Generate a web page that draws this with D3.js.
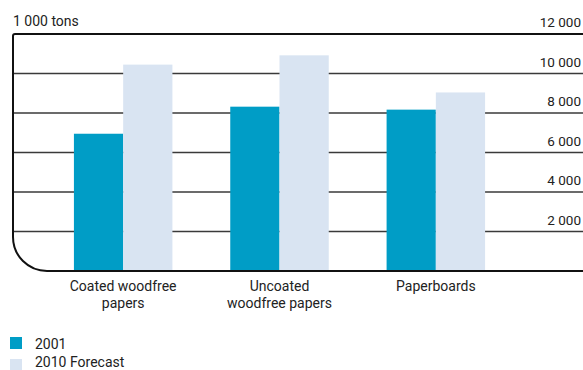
<!DOCTYPE html>
<html>
<head>
<meta charset="utf-8">
<script src="https://cdn.jsdelivr.net/npm/d3@7"></script>
<style>
  html, body { margin: 0; padding: 0; background: #fff; }
  svg { display: block; }
  text { font-family: Roboto, "DejaVu Sans", sans-serif; fill: #222; }
</style>
</head>
<body>
<svg id="chart" width="583" height="370"></svg>
<script>
const categories = [["Coated woodfree", "papers"], ["Uncoated", "woodfree papers"], ["Paperboards"]];
const categoryKeys = ["Coated woodfree papers", "Uncoated woodfree papers", "Paperboards"];
const seriesNames = ["2001", "2010 Forecast"];
const values2001 = [6950, 8320, 8170];
const values2010 = [10450, 10920, 9040];
const tickValues = [2000, 4000, 6000, 8000, 10000, 12000];
const tickLabels = ["2 000", "4 000", "6 000", "8 000", "10 000", "12 000"];
const unitLabel = "1 000 tons";
const colors = ["#009dc6", "#d9e4f2"];

const svg = d3.select("#chart");
const W = 583;
const left = 13, y0px = 271, ytop = 34;

const y = d3.scaleLinear().domain([0, 12000]).range([y0px, ytop]);
const x = d3.scaleBand().domain(categoryKeys).range([45, 514]).paddingInner(0.37).paddingOuter(0.185);
const xs = d3.scaleBand().domain(seriesNames).range([0, x.bandwidth()]);

// gridlines (inner)
svg.append("g").selectAll("line")
  .data(tickValues.filter(v => v < 12000))
  .join("line")
  .attr("x1", left).attr("x2", W)
  .attr("y1", d => y(d)).attr("y2", d => y(d))
  .attr("stroke", "#3a3a3a").attr("stroke-width", 1.5);

// bars
const series = [values2001, values2010];
const g = svg.append("g");
series.forEach((vals, si) => {
  g.selectAll(null).data(vals).join("rect")
    .attr("x", (d, i) => x(categoryKeys[i]) + xs(seriesNames[si]))
    .attr("width", xs.bandwidth())
    .attr("y", d => y(d))
    .attr("height", d => y(0) - y(d))
    .attr("fill", colors[si]);
});

// frame: top line, left line, rounded bottom-left corner, baseline
const r = 34, rt = 2;
const yt = y(12000), yb = y(0);
const path = d3.path();
path.moveTo(W, yt);
path.lineTo(left + rt, yt);
path.arcTo(left, yt, left, yt + rt, rt);
path.lineTo(left, yb - r);
path.arcTo(left, yb, left + r, yb, r);
path.lineTo(W, yb);
svg.append("path").attr("d", path.toString())
  .attr("fill", "none").attr("stroke", "#111").attr("stroke-width", 2);

// right tick labels
svg.append("g").selectAll("text")
  .data(tickValues)
  .join("text")
  .attr("x", 581)
  .attr("y", d => y(d) - 7)
  .attr("text-anchor", "end")
  .attr("font-size", 13.5)
  .text((d, i) => tickLabels[i]);

// unit label
svg.append("text").attr("x", 13).attr("y", 26).attr("font-size", 14).text(unitLabel);

// category labels
categories.forEach((lines, i) => {
  const cx = x(categoryKeys[i]) + x.bandwidth() / 2;
  const t = svg.append("text")
    .attr("x", cx)
    .attr("y", 291)
    .attr("text-anchor", "middle")
    .attr("font-size", 14);
  lines.forEach((ln, j) => {
    t.append("tspan").attr("x", cx).attr("dy", j === 0 ? 0 : 17).text(ln);
  });
});

// legend
const lg = svg.append("g");
seriesNames.forEach((s, i) => {
  lg.append("rect").attr("x", 10).attr("y", 337 + i * 22).attr("width", 12).attr("height", 12).attr("fill", colors[i]);
  lg.append("text").attr("x", 35).attr("y", 348.5 + i * 18.5).attr("font-size", 14).text(s);
});
</script>
</body>
</html>
